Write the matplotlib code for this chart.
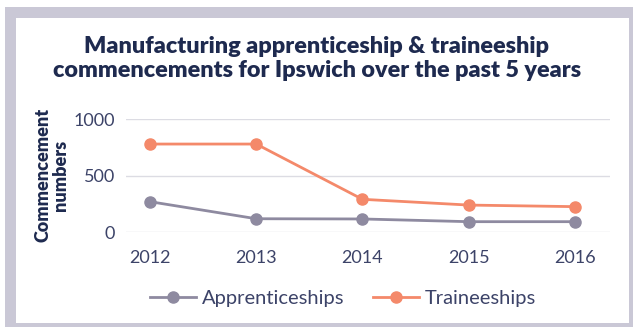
import matplotlib.pyplot as plt
from matplotlib.patches import Rectangle

years = ['2012', '2013', '2014', '2015', '2016']
apprenticeships = [271, 120, 118, 94, 94]
traineeships = [781, 781, 292, 241, 227]

navy = '#1e2a4f'
tick_col = '#3c4368'
grey_line = '#8e8aa0'
orange = '#f4896a'
frame = '#cac8d6'

plt.rcParams['font.family'] = ['Lato', 'DejaVu Sans']

fig = plt.figure(figsize=(6.33, 3.27), dpi=100)
W, H = 633, 327

# grey card with white panel on top
fig.patches.append(Rectangle((5 / W, 0), 628 / W, 320 / H, transform=fig.transFigure,
                             facecolor=frame, edgecolor='none', zorder=0))
fig.patches.append(Rectangle((15.5 / W, 4 / H), 613.5 / W, 305 / H, transform=fig.transFigure,
                             facecolor='white', edgecolor='none', zorder=0))

fig.text(317 / W, 1 - 58.5 / H, 'Manufacturing apprenticeship & traineeship\ncommencements for Ipswich over the past 5 years',
         ha='center', va='center', fontsize=16.8, fontweight='heavy', color=navy, linespacing=1.2)

ax = fig.add_axes([126 / W, 1 - 232.3 / H, 484 / W, 113 / H])
ax.set_zorder(3)
ax.set_facecolor('none')
x = range(len(years))
ax.plot(x, apprenticeships, color=grey_line, lw=2, marker='o', ms=8, label='Apprenticeships', clip_on=False)
ax.plot(x, traineeships, color=orange, lw=2, marker='o', ms=8, label='Traineeships', clip_on=False)

ax.set_xlim(-0.226, 4.33)
ax.set_ylim(0, 1000)
ax.set_yticks([0, 500, 1000])
ax.set_xticks(list(x))
ax.set_xticklabels(years)
ax.grid(axis='y', color='#dcdce3', lw=1)
ax.set_axisbelow(True)
for s in ax.spines.values():
    s.set_visible(False)
ax.tick_params(length=0, labelsize=13, colors=tick_col)
ax.tick_params(axis='x', pad=13)
ax.tick_params(axis='y', pad=8)

fig.text(52 / W, 1 - 175 / H, 'Commencement\nnumbers', rotation=90, ha='center', va='center',
         fontsize=13, fontweight='heavy', color=navy, linespacing=1.05)

leg = fig.legend(loc='center', bbox_to_anchor=(343 / W, 1 - 298.5 / H), ncol=2, frameon=False,
                 fontsize=14.5, labelcolor=tick_col, handlelength=2.3, handletextpad=0.3,
                 columnspacing=1.4)
leg.set_zorder(3)

fig.savefig('out.png', dpi=100)
